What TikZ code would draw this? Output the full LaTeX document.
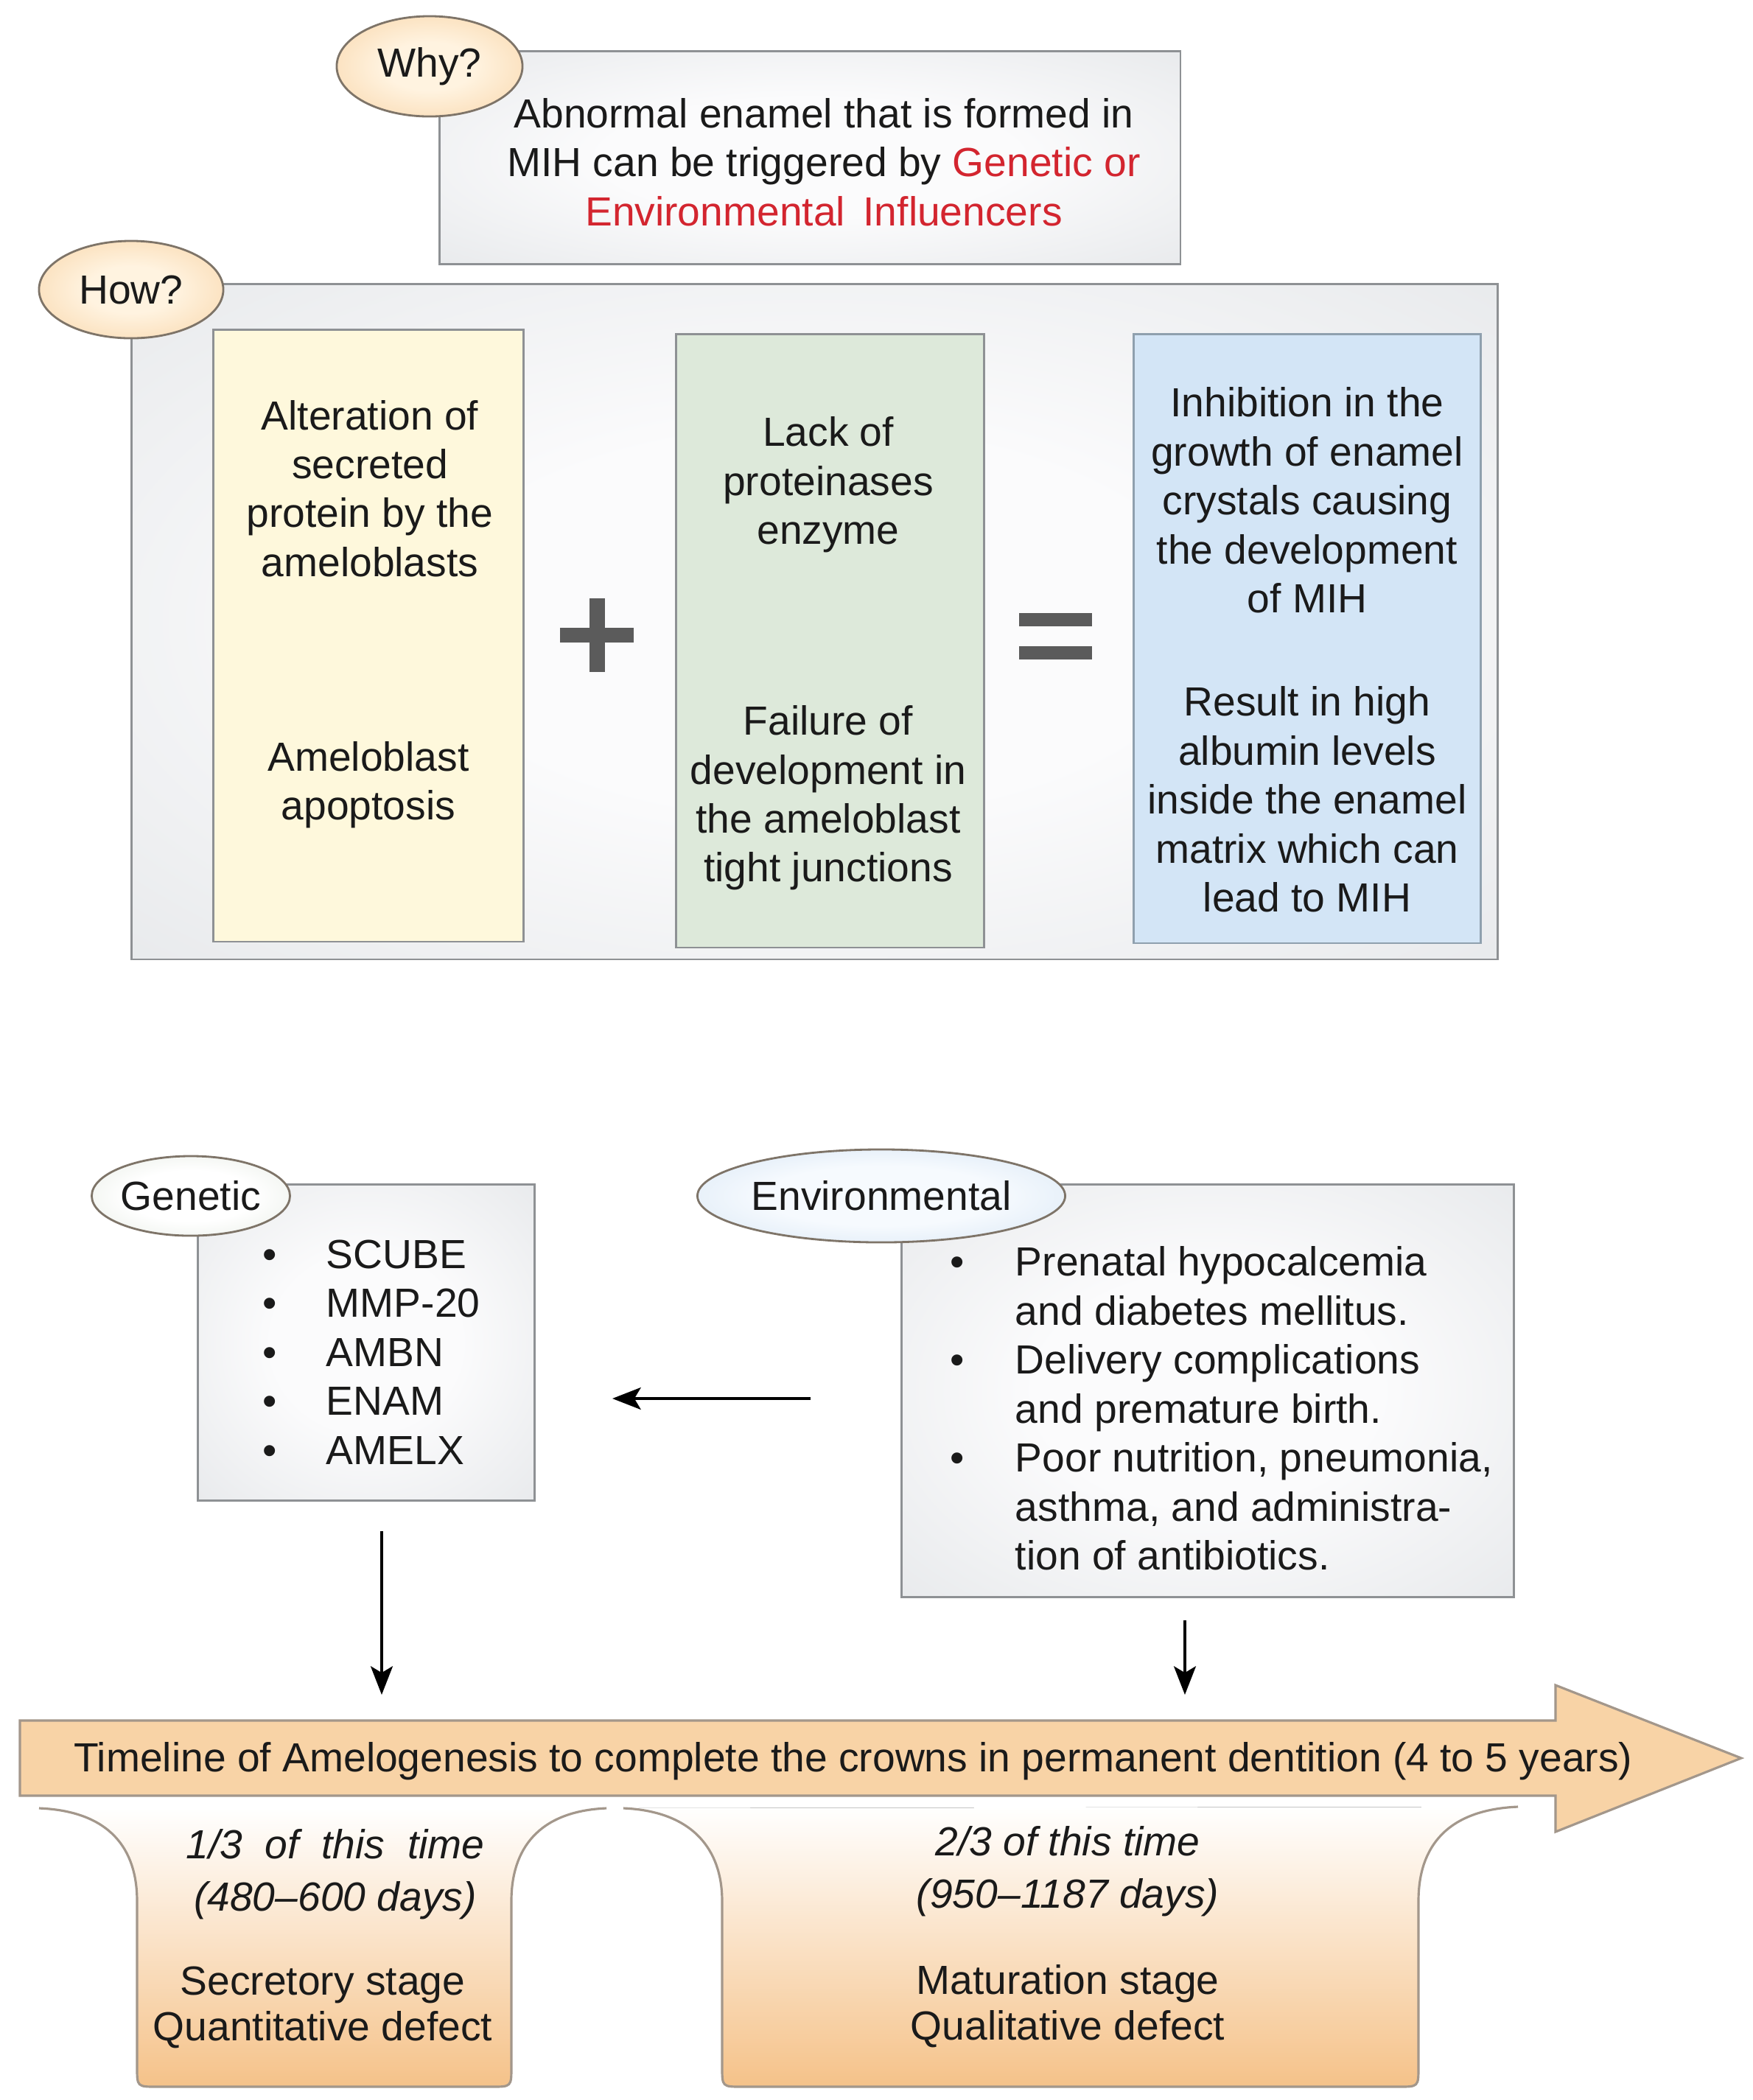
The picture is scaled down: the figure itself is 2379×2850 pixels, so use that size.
\documentclass[tikz,border=0pt]{standalone}
\usepackage{fontspec}
\setmainfont{Liberation Sans}
\usetikzlibrary{shapes.geometric, arrows.meta}
\definecolor{txt}{HTML}{1A1A1A}
\definecolor{redT}{HTML}{D3252F}
\definecolor{peachIn}{HTML}{FFF3E0}
\definecolor{peachOut}{HTML}{F5C488}
\definecolor{genIn}{HTML}{FFFFFF}
\definecolor{genOut}{HTML}{D7E0D3}
\definecolor{envIn}{HTML}{F6FAFE}
\definecolor{envOut}{HTML}{C2D8EE}
\definecolor{boxIn}{HTML}{FBFBFC}
\definecolor{boxOut}{HTML}{DCDFE2}
\definecolor{yelF}{HTML}{FEF8DC}
\definecolor{grnF}{HTML}{DDE9DA}
\definecolor{bluF}{HTML}{D3E5F6}
\definecolor{bordG}{HTML}{8E9194}
\definecolor{bordB}{HTML}{8FA0AE}
\definecolor{ellB}{HTML}{7E7468}
\definecolor{symG}{HTML}{5B5B5B}
\definecolor{tlF}{HTML}{F8D3A6}
\definecolor{tlB}{HTML}{A3978B}
\definecolor{tabB}{HTML}{F5C289}
\pgfdeclareradialshading{peachsh}{\pgfpointorigin}{color(0bp)=(peachIn); color(12bp)=(peachIn); color(50bp)=(peachOut); color(75bp)=(peachOut)}
\pgfdeclareradialshading{gensh}{\pgfpointorigin}{color(0bp)=(genIn); color(16bp)=(genIn); color(50bp)=(genOut); color(75bp)=(genOut)}
\pgfdeclareradialshading{envsh}{\pgfpointorigin}{color(0bp)=(envIn); color(16bp)=(envIn); color(50bp)=(envOut); color(75bp)=(envOut)}
\pgfdeclareradialshading{graysh}{\pgfpointorigin}{color(0bp)=(boxIn); color(14bp)=(boxIn); color(50bp)=(boxOut); color(75bp)=(boxOut)}
\begin{document}
\begin{tikzpicture}[x=0.01cm, y=-0.01cm,
  every node/.style={font=\fontsize{15.7}{18.9}\selectfont, text=txt},
  gbox/.style={draw=bordG, line width=0.8pt, shade, shading=graysh, inner sep=0, anchor=north west},
  cbox/.style={draw=bordG, line width=0.8pt, inner sep=0, anchor=north west},
  bubble/.style={ellipse, draw=ellB, line width=0.8pt, inner sep=0, shade},
  lbl/.style={align=center, inner sep=0},
  arr/.style={line width=1.1pt, draw=black, -{Stealth[length=11pt,width=8.5pt,inset=2.5pt]}},
  tabshade/.style={top color=white, bottom color=tabB},
  tabline/.style={draw=tlB, line width=0.9pt},
  itl/.style={align=center, inner sep=0, font=\fontsize{15.7}{20.2}\selectfont\itshape},
  stg/.style={align=center, inner sep=0, font=\fontsize{15.7}{17.6}\selectfont}]
\useasboundingbox (0,0) rectangle (2379,2850);
\fill[white] (0,0) rectangle (2379,2850);

% ---------- Why ----------
\node[gbox, minimum width=10.05cm, minimum height=2.89cm] (whybox) at (595,68) {};
\node[bubble, shading=peachsh, minimum width=2.52cm, minimum height=1.36cm] (why) at (583,90) {Why?};
\node[lbl] (whyT) at (1118,220) {Abnormal enamel that is formed in\\MIH can be triggered by \textcolor{redT}{Genetic or}\\\textcolor{redT}{Environmental\hspace{7pt}Influencers}};

% ---------- How ----------
\node[gbox, minimum width=18.53cm, minimum height=9.16cm] (howbox) at (177,384) {};
\node[bubble, shading=peachsh, minimum width=2.50cm, minimum height=1.32cm] (how) at (178,393) {How?};

\node[cbox, fill=yelF, minimum width=4.21cm, minimum height=8.30cm] (yel) at (288,446) {};
\node[cbox, fill=grnF, minimum width=4.18cm, minimum height=8.32cm] (grn) at (916,452) {};
\node[cbox, draw=bordB, fill=bluF, minimum width=4.71cm, minimum height=8.26cm] (blu) at (1537,452) {};

\node[lbl] (yel1) at (502,663) {Alteration of\\secreted\\protein by the\\ameloblasts};
\node[lbl] (yel2) at (500,1065) {Ameloblast\\apoptosis};
\node[lbl] (grn1) at (1124,658) {Lack of\\proteinases\\enzyme};
\node[lbl] (grn2) at (1124,1083) {Failure of\\development in\\the ameloblast\\tight junctions};
\node[lbl] (blu1) at (1774,679) {Inhibition in the\\growth of enamel\\crystals causing\\the development\\of MIH};
\node[lbl] (blu2) at (1774,1085) {Result in high\\albumin levels\\inside the enamel\\matrix which can\\lead to MIH};

% plus and equals
\fill[symG] (800,812) rectangle (821,912);
\fill[symG] (760,852) rectangle (860,872);
\fill[symG] (1383,832) rectangle (1482,850);
\fill[symG] (1383,877) rectangle (1482,895);

% ---------- Genetic ----------
\node[gbox, minimum width=4.57cm, minimum height=4.29cm] (genbox) at (267,1606) {};
\node[bubble, shading=gensh, minimum width=2.58cm, minimum height=1.08cm] (gen) at (259,1623) {Genetic};
\node[anchor=west, inner sep=0] (genT) at (356,1841) {\begin{tabular}{@{}l@{\hspace{19pt}}l@{}}
\textbullet & SCUBE\\
\textbullet & MMP-20\\
\textbullet & AMBN\\
\textbullet & ENAM\\
\textbullet & AMELX
\end{tabular}};

% ---------- Environmental ----------
\node[gbox, minimum width=8.31cm, minimum height=5.60cm] (envbox) at (1222,1606) {};
\node[bubble, shading=envsh, minimum width=4.88cm, minimum height=1.26cm] (env) at (1196,1623) {Environmental};
\node[anchor=west, inner sep=0] (envT) at (1289,1918) {\begin{tabular}{@{}l@{\hspace{19.6pt}}l@{}}
\textbullet & Prenatal hypocalcemia\\
 & and diabetes mellitus.\\
\textbullet & Delivery complications\\
 & and premature birth.\\
\textbullet & Poor nutrition, pneumonia,\\
 & asthma, and administra-\\
 & tion of antibiotics.
\end{tabular}};

% ---------- connectors ----------
\coordinate (la) at (1100,1898);
\coordinate (lb) at (831,1898);
\draw[arr] (la) -- (lb);
\coordinate (d1a) at (518,2078);
\coordinate (d1b) at (518,2300);
\draw[arr] (d1a) -- (d1b);
\coordinate (d2a) at (1608,2199);
\coordinate (d2b) at (1608,2300);
\draw[arr] (d2a) -- (d2b);

% ---------- timeline arrow ----------
\draw[fill=tlF, draw=tlB, line width=0.9pt, line join=miter]
  (27,2335) -- (2111,2335) -- (2111,2287) -- (2363,2386) -- (2111,2486) -- (2111,2437) -- (27,2437) -- cycle;
\node[inner sep=0] (tl) at (1158,2390) {Timeline of Amelogenesis to complete the crowns in permanent dentition (4 to 5 years)};

% ---------- tabs ----------
\fill[tabshade] (53,2454) .. controls (150,2458) and (186,2510) .. (186,2580) -- (186,2805)
  .. controls (186,2832) .. (213,2832) -- (667,2832) .. controls (694,2832) .. (694,2805)
  -- (694,2580) .. controls (694,2510) and (730,2458) .. (823,2454) -- cycle;
\draw[tabline] (53,2454) .. controls (150,2458) and (186,2510) .. (186,2580) -- (186,2805)
  .. controls (186,2832) .. (213,2832) -- (667,2832) .. controls (694,2832) .. (694,2805)
  -- (694,2580) .. controls (694,2510) and (730,2458) .. (823,2454);

\fill[tabshade] (846,2454) .. controls (940,2458) and (980,2510) .. (980,2580) -- (980,2805)
  .. controls (980,2832) .. (1007,2832) -- (1898,2832) .. controls (1925,2832) .. (1925,2805)
  -- (1925,2580) .. controls (1925,2505) and (1965,2456) .. (2060,2452) -- cycle;
\draw[tabline] (846,2454) .. controls (940,2458) and (980,2510) .. (980,2580) -- (980,2805)
  .. controls (980,2832) .. (1007,2832) -- (1898,2832) .. controls (1925,2832) .. (1925,2805)
  -- (1925,2580) .. controls (1925,2505) and (1965,2456) .. (2060,2452);

\node[itl] (t1a) at (455,2544) {1/3\hspace{8.7pt}of\hspace{8.7pt}this\hspace{8.7pt}time\\(480–600 days)};
\node[stg] (t1b) at (438,2724) {Secretory stage\\Quantitative defect};
\node[itl] (t2a) at (1449,2540) {2/3 of this time\\(950–1187 days)};
\node[stg] (t2b) at (1449,2723) {Maturation stage\\Qualitative defect};
\end{tikzpicture}
\end{document}
